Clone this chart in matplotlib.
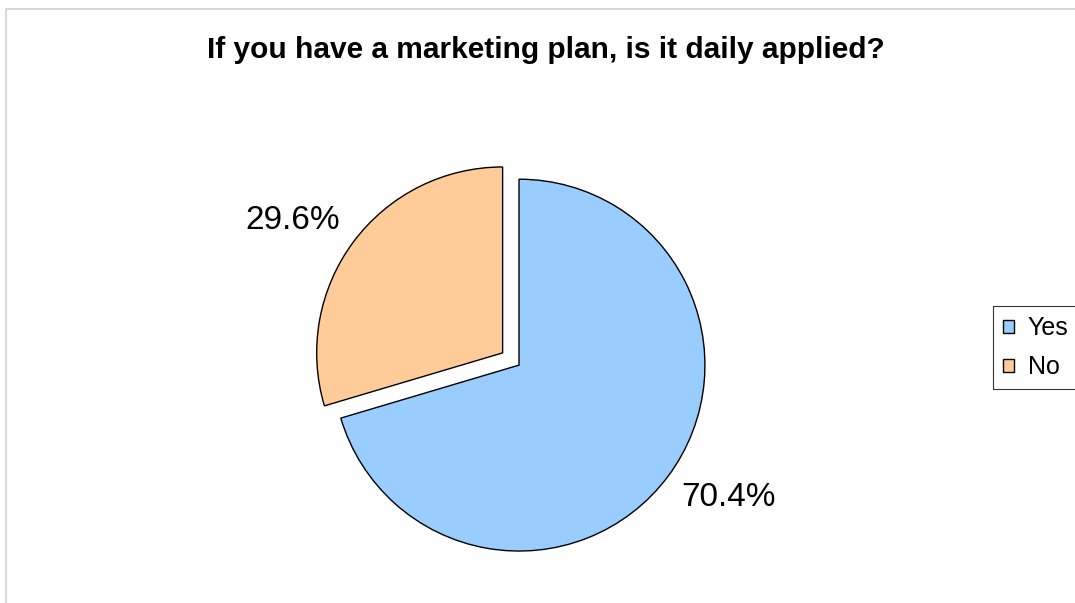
import numpy as np
import matplotlib
matplotlib.use("Agg")
import matplotlib.pyplot as plt
from matplotlib.patches import Rectangle

# Survey answers
labels = ["Yes", "No"]
shares = [70.4, 29.6]
colors = ["#99CCFF", "#FFCC99"]
explode = [0, 0.11]

plt.rcParams["font.family"] = ["Liberation Sans", "DejaVu Sans"]

fig = plt.figure(figsize=(10.75, 6.03), dpi=100)

# light frame of the chart area
fig.patches.append(Rectangle((6 / 1075, -0.1), 1.2, 1.1 - 9 / 603,
                             transform=fig.transFigure, fill=False,
                             edgecolor="#d9d9d9", linewidth=1.5))

ax = fig.add_axes([0.2233, -0.068, 0.519, 0.925])
wedges, texts, autotexts = ax.pie(
    shares, colors=colors, explode=explode, startangle=90, counterclock=False,
    autopct="%.1f%%", pctdistance=1.34,
    wedgeprops=dict(edgecolor="black", linewidth=1.0),
    textprops=dict(fontsize=24, color="black"))

# percentage labels sit a bit outside the wedge, turned slightly counterclockwise
for w, t in zip(wedges, autotexts):
    ang = np.deg2rad((w.theta1 + w.theta2) / 2 + 4.5)
    cx, cy = w.center
    t.set_position((cx + 1.335 * np.cos(ang), cy + 1.335 * np.sin(ang)))

ax.set_xlim(-1.5, 1.5)
ax.set_ylim(-1.5, 1.5)
ax.set_aspect("equal")

fig.text(0.508, 0.917, "If you have a marketing plan, is it daily applied?",
         ha="center", va="center", fontsize=21.5, fontweight="bold")

leg = fig.legend(wedges, labels, loc="center left",
                 bbox_to_anchor=(0.924, 0.423), fontsize=18,
                 frameon=True, fancybox=False, handlelength=0.42,
                 handleheight=0.42, handletextpad=0.55, borderpad=0.4,
                 labelspacing=0.6, borderaxespad=0)
leg.get_frame().set_edgecolor("black")
leg.get_frame().set_linewidth(0.8)
for h in leg.legend_handles:
    h.set_linewidth(1.0)

fig.savefig("out.png", dpi=100)
